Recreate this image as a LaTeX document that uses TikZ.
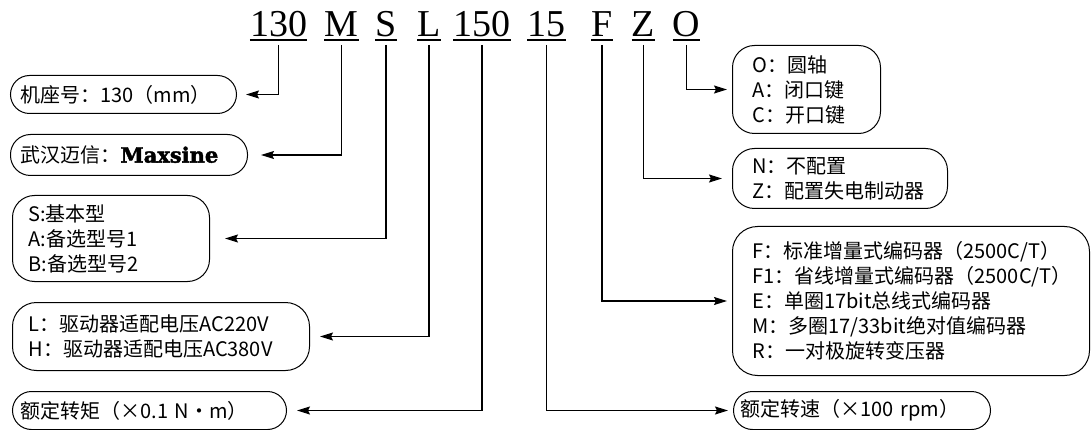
\documentclass[tikz,border=0pt]{standalone}
\usepackage{fontspec}
\setmainfont{Liberation Serif}
\newfontfamily\cjk{Noto Sans CJK SC}
\newfontfamily\maxfont{DejaVu Serif}[BoldFeatures={FakeBold=2}]
\usetikzlibrary{arrows.meta}
\begin{document}
\begin{tikzpicture}[x=1pt,y=-1pt,
  code/.style={font=\fontsize{38}{38}\selectfont, inner sep=0pt, anchor=base, text depth=0pt},
  ul/.style={line width=1.4pt},
  conn/.style={line width=1.3pt, -{Stealth[length=13pt,width=8pt,inset=2pt]}},
  box/.style={draw, line width=1pt, font=\cjk\fontsize{20}{25}\selectfont, align=left, anchor=north west, inner ysep=0pt},
]
\useasboundingbox (0,0) rectangle (1091,430);
% code letters
\node[code] (c130) at (278.5,36.5) {130};
\node[code] (cM)   at (341.5,36.5) {M};
\node[code] (cS)   at (386,36.5) {S};
\node[code] (cL)   at (429,36.5) {L};
\node[code] (c150) at (482,36.5) {150};
\node[code] (c15)  at (546.5,36.5) {15};
\node[code] (cF)   at (602,36.5) {F};
\node[code] (cZ)   at (643.5,36.5) {Z};
\node[code] (cO)   at (686.5,36.5) {O};
\foreach \n in {c130,cM,cS,cL,c150,c15,cF,cZ,cO}
  \draw[ul] ([yshift=-3.5pt]\n.base west) -- ([yshift=-3.5pt]\n.base east);
% left boxes
\node[box, minimum height=38pt, inner xsep=10pt, text width=206pt, rounded corners=19pt] (b1) at (10,75) {机座号：130（mm）};
\node[box, minimum height=41pt, inner xsep=10pt, text width=217pt, rounded corners=20pt] (b2) at (10,134) {武汉迈信：{\maxfont\fontsize{21}{25}\selectfont\bfseries Maxsine}};
\node[box, minimum height=86pt, inner xsep=16pt, text width=165pt, rounded corners=22pt] (b3) at (12,195) {S:基本型\\A:备选型号1\\B:备选型号2};
\node[box, minimum height=68pt, inner xsep=16pt, text width=265pt, rounded corners=24pt] (b4) at (12,302) {L：驱动器适配电压AC220V\\H：驱动器适配电压AC380V};
\node[box, minimum height=38pt, inner xsep=8pt, text width=258pt, rounded corners=19pt] (b5) at (12,391) {额定转矩（×0.1 N・m）};
% right boxes
\node[box, minimum height=88pt, inner xsep=20pt, text width=108pt, rounded corners=22pt] (bO) at (732,45) {O：圆轴\\A：闭口键\\C：开口键};
\node[box, minimum height=60pt, inner xsep=20pt, text width=175pt, rounded corners=22pt] (bZ) at (732,148) {N：不配置\\Z：配置失电制动器};
\node[box, minimum height=149pt, inner xsep=20pt, text width=317pt, rounded corners=25pt] (bF) at (732,226) {F：标准增量式编码器（2500C/T）\\F1：省线增量式编码器（2500C/T）\\E：单圈17bit总线式编码器\\M：多圈17/33bit绝对值编码器\\R：一对极旋转变压器};
\node[box, minimum height=38pt, inner xsep=7pt, text width=243pt, rounded corners=19pt] (b15) at (733,391) {额定转速（×100 rpm）};
% connectors
\draw[conn, shorten >=9pt]  ([yshift=-8.5pt]c130.base) |- (b1);
\draw[conn, shorten >=13pt] ([yshift=-8.5pt]cM.base) |- (b2);
\draw[conn, shorten >=15pt] ([yshift=-8.5pt]cS.base) |- (b3);
\draw[conn, shorten >=10pt] ([yshift=-8.5pt]cL.base) |- (b4);
\draw[conn, shorten >=10pt] ([yshift=-8.5pt]c150.base) |- (b5);
\draw[conn, shorten >=5pt]  ([yshift=-8.5pt]c15.base) |- (b15);
\draw[conn, shorten >=5pt]  ([yshift=-8.5pt]cF.base) |- (bF);
\draw[conn, shorten >=10pt] ([yshift=-8.5pt]cZ.base) |- (bZ);
\draw[conn, shorten >=5pt]  ([yshift=-8.5pt]cO.base) |- (bO);
\end{tikzpicture}
\end{document}
